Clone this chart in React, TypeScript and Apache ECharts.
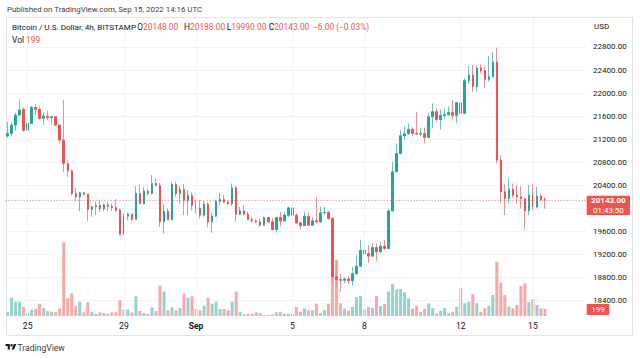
import React, { useEffect, useRef } from 'react';
import * as echarts from 'echarts';

// ---- data (BTC/USD 4h, Bitstamp) ----
const opens = [
  21252, 21298, 21443, 21617, 21716, 21356, 21472, 21751, 21716, 21559,
  21600, 21571, 21590, 21443, 21183, 20777, 20649, 20255, 20197, 20267,
  20243, 19977, 20023, 20046, 19988, 20058, 20030, 20010, 19966, 19548,
  19861, 19896, 19809, 20255, 20081, 20296, 20255, 20429, 20394, 19763,
  19948, 19803, 20412, 20255, 20325, 20139, 20220, 20047, 20000, 19879,
  20070, 19763, 19861, 20116, 20151, 20105, 20081, 20354, 19896, 19954,
  19896, 19803, 19780, 19763, 19705, 19838, 19763, 19629, 19838, 19780,
  19879, 20006, 19879, 19745, 19699, 19861, 19705, 19780, 19763, 19919,
  19925, 19821, 18806, 18760, 18748, 18770, 18740, 18864, 18992, 19270,
  19212, 19167, 19316, 19241, 19340, 19299, 19954, 20632, 20951, 21258,
  21293, 21369, 21299, 21287, 21295, 21229, 21589, 21676, 21542, 21612,
  21624, 21659, 21612, 21832, 21647, 22215, 22313, 22110, 22435, 22389,
  22238, 22284, 22539, 20835, 20284, 20168, 20325, 20226, 20197, 20168,
  19954, 20226, 20023, 20209, 20148,
];
const highs = [
  21501, 21484, 21658, 21890, 21751, 21600, 21774, 21809, 21762, 21658,
  21687, 21600, 21600, 21460, 21878, 20835, 20672, 20360, 20284, 20284,
  20250, 20052, 20110, 20151, 20081, 20110, 20081, 20162, 19990, 19907,
  19920, 19907, 20383, 20418, 20371, 20342, 20574, 20516, 20441, 20081,
  19994, 20458, 20458, 20389, 20418, 20313, 20284, 20139, 20139, 20127,
  20099, 19908, 20151, 20267, 20226, 20140, 20429, 20383, 20023, 20052,
  19937, 19838, 19810, 19821, 19850, 19850, 19821, 19850, 19937, 19937,
  20023, 20052, 19908, 19760, 19937, 19919, 19850, 20186, 20023, 20023,
  19954, 19850, 19067, 18864, 18800, 18820, 18980, 19183, 19455, 19374,
  19357, 19397, 19386, 19415, 19444, 19980, 20806, 21125, 21357, 21426,
  21473, 21403, 21676, 21403, 21403, 21658, 21821, 21734, 21716, 21734,
  21762, 21879, 21850, 22342, 22255, 22470, 22487, 22487, 22499, 22458,
  22644, 22719, 22790, 20922, 20418, 20528, 20429, 20400, 20383, 20180,
  20400, 20429, 20371, 20250, 20188,
];
const lows = [
  21229, 21240, 21345, 21600, 21327, 21322, 21461, 21617, 21542, 21443,
  21530, 21443, 21426, 21125, 20632, 20545, 20226, 20128, 19948, 20226,
  19774, 19849, 19878, 19936, 19954, 19954, 19954, 19936, 19530, 19540,
  19791, 19774, 19803, 20070, 20060, 20220, 20240, 20380, 19676, 19560,
  19790, 19790, 20197, 20081, 19884, 19879, 19965, 19908, 19821, 19850,
  19665, 19571, 19850, 20052, 20090, 20050, 20035, 19763, 19879, 19880,
  19790, 19745, 19740, 19676, 19687, 19750, 19620, 19589, 19687, 19770,
  19850, 19870, 19730, 19629, 19690, 19690, 19700, 19740, 19750, 19880,
  19800, 18700, 18634, 18545, 18700, 18680, 18661, 18840, 18980, 19067,
  19050, 19155, 19085, 19230, 19280, 19290, 19940, 20620, 20940, 21183,
  21280, 21260, 21270, 21250, 21125, 21220, 21386, 21502, 21368, 21560,
  21600, 21542, 21473, 21635, 21640, 22157, 22023, 22023, 22342, 22081,
  22197, 22273, 20777, 20081, 19879, 20081, 20180, 20081, 19994, 19629,
  19879, 19965, 19994, 20130, 19990,
];
const closes = [
  21298, 21443, 21617, 21704, 21356, 21472, 21751, 21716, 21559, 21600,
  21571, 21590, 21443, 21183, 20777, 20649, 20255, 20197, 20267, 20243,
  19977, 20023, 20046, 19988, 20058, 20030, 20010, 19966, 19548, 19861,
  19896, 19809, 20255, 20081, 20296, 20255, 20429, 20394, 19763, 19948,
  19803, 20412, 20255, 20325, 20139, 20220, 20047, 20000, 19879, 20070,
  19763, 19861, 20116, 20151, 20105, 20081, 20354, 19896, 19954, 19896,
  19803, 19780, 19763, 19705, 19838, 19763, 19629, 19838, 19780, 19879,
  20006, 19879, 19745, 19699, 19861, 19705, 19780, 19763, 19919, 19925,
  19821, 18806, 18760, 18748, 18770, 18740, 18864, 18992, 19270, 19212,
  19167, 19316, 19241, 19340, 19299, 19954, 20632, 20951, 21258, 21293,
  21369, 21299, 21287, 21295, 21229, 21589, 21676, 21542, 21612, 21624,
  21659, 21612, 21832, 21647, 22215, 22313, 22110, 22435, 22389, 22238,
  22284, 22539, 20835, 20284, 20168, 20325, 20226, 20197, 20168, 19954,
  20226, 20023, 20209, 20151, 20143,
];
const volumes = [
  114, 520, 407, 407, 256, 94, 179, 199, 350, 227,
  142, 122, 105, 219, 2095, 503, 645, 276, 407, 105,
  389, 122, 57, 105, 85, 65, 105, 105, 446, 179,
  190, 105, 560, 142, 85, 57, 247, 142, 861, 691,
  162, 247, 162, 227, 634, 520, 560, 199, 162, 293,
  520, 350, 407, 199, 199, 162, 407, 691, 122, 48,
  65, 65, 105, 85, 28, 28, 48, 105, 122, 65,
  65, 65, 256, 122, 219, 162, 162, 350, 85, 179,
  350, 1393, 1592, 361, 208, 151, 264, 532, 569, 190,
  264, 227, 569, 284, 341, 691, 910, 759, 759, 674,
  503, 208, 284, 122, 208, 361, 227, 77, 151, 227,
  77, 122, 264, 788, 361, 407, 625, 361, 122, 219,
  284, 597, 1544, 947, 597, 264, 219, 313, 853, 930,
  398, 483, 313, 219, 199,
];

const startTimeUtc = Date.UTC(2022, 7, 24, 4, 0);
const slotCount = 145; // 135 candles + empty space on the right
const tickIndices = [5, 29, 47, 71, 89, 113, 131];
const tickLabels = ['25', '29', 'Sep', '5', '8', '12', '15'];
const priceMin = 18000;
const priceMax = 23200;
const priceStep = 400;
const volumeMax = 8470;
const lastPrice = 20143;
const countdown = '01:43:50';
const lastVolume = '199';
const headerText = 'Published on TradingView.com, Sep 15, 2022 14:16 UTC';
const symbolText = 'Bitcoin / U.S. Dollar, 4h, BITSTAMP';
const ohlcLabels = ['O', 'H', 'L', 'C'];
const ohlcValues = ['20148.00', '20188.00', '19990.00', '20143.00'];
const changeText = '\u22126.00 (\u22120.03%)';

const UP = '#26a69a';
const DOWN = '#ef5350';
const UP_WICK = '#6fc3ba';
const DOWN_WICK = '#f48f8d';
const UP_VOL = '#93d3cd';
const DOWN_VOL = '#f8a9a7';
const GRID = '#f0f3fa';
const FONT = 'Roboto, "Liberation Sans", sans-serif';
const TEXT = '#131722';

const TV_LOGO =
  'M14 22H7V11H0V4h14v18zM28 22h-8l7.5-18h8L28 22zM16 8a4 4 0 1 0 8 0a4 4 0 1 0 -8 0z';

let logoRegistered = false;

function pad2(n: number) {
  return n < 10 ? '0' + n : '' + n;
}

export default function App() {
  const ref = useRef<HTMLDivElement>(null);

  useEffect(() => {
    if (!ref.current) return;
    if (!logoRegistered) {
      echarts.graphic.registerShape('tvlogo', echarts.graphic.extendPath(TV_LOGO, {}));
      logoRegistered = true;
    }
    const chart = echarts.init(ref.current, undefined, { renderer: 'svg' });

    const categories: string[] = [];
    for (let i = 0; i < slotCount; i++) {
      const d = new Date(startTimeUtc + i * 4 * 3600 * 1000);
      categories.push(
        `${d.getUTCFullYear()}-${pad2(d.getUTCMonth() + 1)}-${pad2(d.getUTCDate())} ${pad2(d.getUTCHours())}:00`
      );
    }
    const tickMap: Record<number, string> = {};
    tickIndices.forEach((idx, k) => (tickMap[idx] = tickLabels[k]));

    const wickData = opens.map((o, i) => [o, closes[i], lows[i], highs[i]]);
    const bodyData = opens.map((o, i) => [
      o,
      closes[i],
      Math.min(o, closes[i]),
      Math.max(o, closes[i]),
    ]);
    const volData = volumes.map((v, i) => ({
      value: v,
      itemStyle: { color: closes[i] >= opens[i] ? UP_VOL : DOWN_VOL },
    }));

    const gridLeft = 5.6;
    const gridWidth = slotCount * 4.01;
    const priceTop = 23.97;
    const priceHeight = 299.36;

    const legendY = 27;
    const legendFont = `8.4px ${FONT}`;
    const ohlcX = [137.3, 184, 226.7, 268.7];

    const graphics: any[] = [
      {
        type: 'rect',
        shape: { x: 6.5, y: 17.5, width: 626, height: 318 },
        style: { fill: 'none', stroke: '#e0e3eb', lineWidth: 1 },
        z: 0,
        silent: true,
      },
      {
        type: 'text',
        x: 7,
        y: 9.5,
        style: { text: headerText, fill: '#3c3c3c', font: `7.9px ${FONT}`, textVerticalAlign: 'middle' },
        z: 100,
      },
      {
        type: 'text',
        x: 12,
        y: legendY,
        style: { text: symbolText, fill: TEXT, font: `8.1px ${FONT}`, textVerticalAlign: 'middle' },
        z: 100,
      },
      ...ohlcLabels.map((lab, k) => ({
        type: 'text',
        x: ohlcX[k],
        y: legendY,
        style: {
          text: `{l|${lab}}{v|${ohlcValues[k]}}`,
          rich: {
            l: { fill: TEXT, font: legendFont },
            v: { fill: DOWN, font: legendFont },
          },
          textVerticalAlign: 'middle',
        },
        z: 100,
      })),
      {
        type: 'text',
        x: 313,
        y: legendY,
        style: { text: changeText, fill: DOWN, font: legendFont, textVerticalAlign: 'middle' },
        z: 100,
      },
      {
        type: 'text',
        x: 12,
        y: 39.5,
        style: {
          text: `{l|Vol}{g| }{v|${lastVolume}}`,
          rich: {
            l: { fill: TEXT, font: legendFont },
            g: { fill: TEXT, font: legendFont },
            v: { fill: DOWN, font: legendFont },
          },
          textVerticalAlign: 'middle',
        },
        z: 100,
      },
      {
        type: 'text',
        x: 594,
        y: 26,
        style: { text: 'USD', fill: TEXT, font: `8px ${FONT}`, textVerticalAlign: 'middle' },
        z: 100,
      },
      {
        type: 'rect',
        shape: { x: 586.7, y: 195.7, width: 43.3, height: 19.3, r: 1 },
        style: { fill: DOWN },
        z: 100,
      },
      {
        type: 'text',
        x: 608.4,
        y: 200.8,
        style: {
          text: lastPrice.toFixed(2),
          fill: '#ffffff',
          font: `bold 8px ${FONT}`,
          textAlign: 'center',
          textVerticalAlign: 'middle',
        },
        z: 101,
      },
      {
        type: 'text',
        x: 608.4,
        y: 210.6,
        style: {
          text: countdown,
          fill: '#ffffff',
          font: `8px ${FONT}`,
          textAlign: 'center',
          textVerticalAlign: 'middle',
        },
        z: 101,
      },
      {
        type: 'rect',
        shape: { x: 586.7, y: 304, width: 22.6, height: 11, r: 1 },
        style: { fill: DOWN },
        z: 100,
      },
      {
        type: 'text',
        x: 598,
        y: 309.7,
        style: {
          text: lastVolume,
          fill: '#ffffff',
          font: `8px ${FONT}`,
          textAlign: 'center',
          textVerticalAlign: 'middle',
        },
        z: 101,
      },
      {
        type: 'tvlogo',
        x: 5.6,
        y: 342.8,
        scaleX: 0.3,
        scaleY: 0.3,
        style: { fill: '#131722' },
        z: 100,
      },
      {
        type: 'text',
        x: 17.5,
        y: 347.5,
        style: { text: 'TradingView', fill: '#3c3c3c', font: `8.6px ${FONT}`, textVerticalAlign: 'middle' },
        z: 100,
      },
    ];

    const option: any = {
      animation: false,
      backgroundColor: '#ffffff',
      grid: [
        { left: gridLeft, top: priceTop, width: gridWidth, height: priceHeight, containLabel: false },
        { left: gridLeft, top: 18, width: gridWidth, height: 298, containLabel: false },
      ],
      xAxis: [
        {
          type: 'category',
          gridIndex: 0,
          data: categories,
          boundaryGap: true,
          axisLine: { show: false },
          axisTick: { show: false },
          axisLabel: { show: false },
          splitLine: { show: false },
        },
        {
          type: 'category',
          gridIndex: 1,
          data: categories,
          boundaryGap: true,
          axisLine: { show: false },
          axisTick: { show: false },
          splitLine: { show: false },
          axisLabel: {
            interval: (idx: number) => tickMap[idx] !== undefined,
            formatter: (_v: string, idx: number) =>
              tickMap[idx] === 'Sep' ? '{b|Sep}' : tickMap[idx] || '',
            color: TEXT,
            fontSize: 8.6,
            fontFamily: FONT,
            margin: 5,
            rich: { b: { fontWeight: 'bold', fontSize: 8.6, fontFamily: FONT, color: TEXT } },
          },
        },
      ],
      yAxis: [
        {
          type: 'value',
          gridIndex: 0,
          position: 'right',
          min: priceMin,
          max: priceMax,
          interval: priceStep,
          axisLine: { show: false },
          axisTick: { show: false },
          axisLabel: {
            margin: 6,
            color: TEXT,
            fontSize: 8,
            fontFamily: FONT,
            formatter: (v: number) =>
              v === priceMin || v === priceMax || v === 20000 ? '' : v.toFixed(2),
          },
          splitLine: {
            show: true,
            showMinLine: false,
            showMaxLine: false,
            lineStyle: { color: GRID, width: 1 },
          },
        },
        {
          type: 'value',
          gridIndex: 1,
          min: 0,
          max: volumeMax,
          show: false,
          splitLine: { show: false },
        },
      ],
      series: [
        {
          type: 'line',
          xAxisIndex: 1,
          yAxisIndex: 1,
          data: [],
          z: 0,
          silent: true,
          markLine: {
            silent: true,
            symbol: ['none', 'none'],
            label: { show: false },
            lineStyle: { color: GRID, width: 1, type: 'solid' },
            data: tickIndices.map((idx) => ({ xAxis: idx })),
          },
        },
        {
          type: 'bar',
          name: 'Volume',
          xAxisIndex: 1,
          yAxisIndex: 1,
          data: volData,
          barWidth: 3,
          z: 1,
        },
        {
          type: 'candlestick',
          name: 'wicks',
          xAxisIndex: 0,
          yAxisIndex: 0,
          data: wickData,
          barWidth: 0.5,
          z: 3,
          itemStyle: {
            color: UP_WICK,
            color0: DOWN_WICK,
            borderColor: UP_WICK,
            borderColor0: DOWN_WICK,
            borderWidth: 1,
          },
          markLine: {
            silent: true,
            symbol: ['none', 'none'],
            label: { show: false },
            lineStyle: { color: DOWN, width: 1, type: [1, 2], opacity: 0.8 },
            data: [{ yAxis: lastPrice }],
          },
        },
        {
          type: 'candlestick',
          name: 'BTCUSD',
          xAxisIndex: 0,
          yAxisIndex: 0,
          data: bodyData,
          barWidth: 2,
          z: 4,
          itemStyle: {
            color: UP,
            color0: DOWN,
            borderColor: UP,
            borderColor0: DOWN,
            borderWidth: 1,
          },
        },
      ],
      graphic: graphics,
    };

    chart.setOption(option);
    return () => {
      chart.dispose();
    };
  }, []);

  return (
    <div
      ref={ref}
      style={{ position: 'absolute', left: 0, top: 0, width: 640, height: 359, background: '#fff' }}
    />
  );
}
